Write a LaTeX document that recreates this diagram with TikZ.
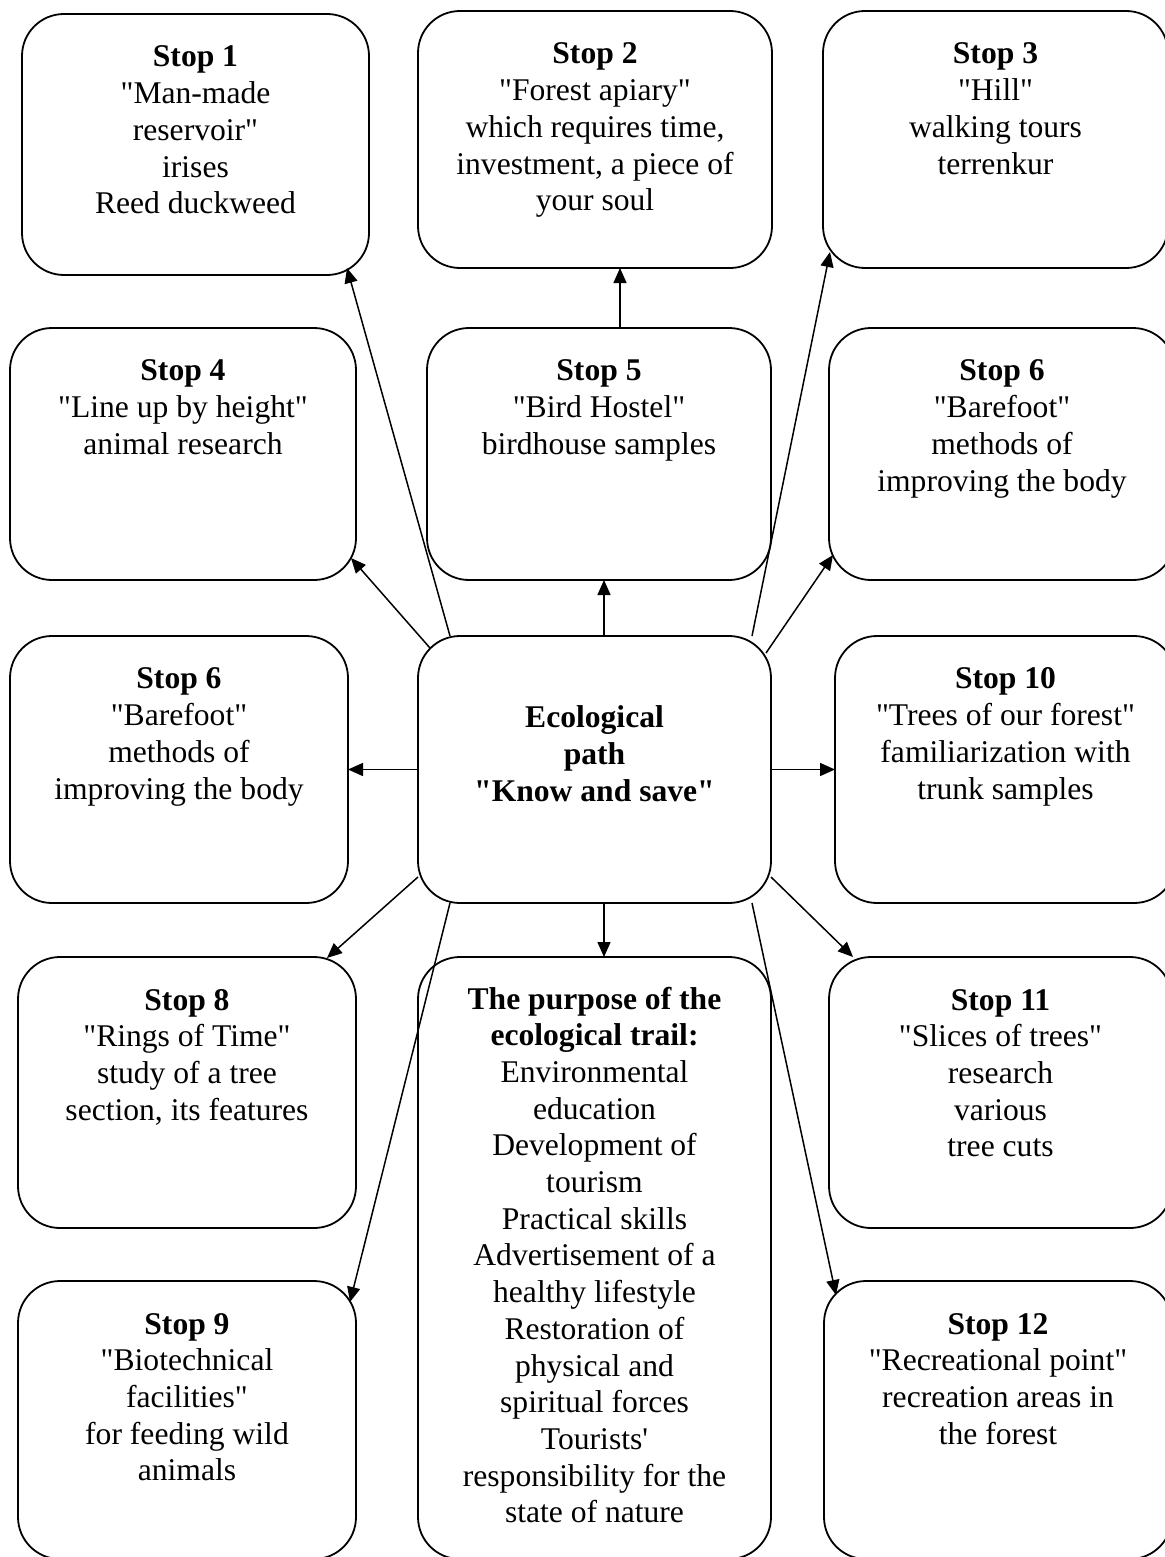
\documentclass[tikz,border=0pt]{standalone}
\usepackage{fontspec}
\setmainfont{Liberation Serif}[Ligatures=TeXOff]
\usetikzlibrary{arrows.meta}

% box body: width, height, gap above first line, lines
\newcommand\stopbody[4]{\parbox[c][#2pt][t]{#1pt}{\centering\vspace*{#3pt}\strut#4}}

\tikzset{
  stopbox/.style={draw, line width=1.8pt, rounded corners=42pt, inner sep=0pt, outer sep=0pt,
    font=\fontsize{31.6}{36.7}\selectfont},
  link/.style={line width=1.5pt, -{Triangle[length=15pt,width=13pt]}},
}

\begin{document}
\begin{tikzpicture}[x=1pt, y=-1pt]
\path[use as bounding box, fill=white] (0,0) rectangle (1164,1557);

% top row
\node[stopbox] (s1) at (195.5,144.5) {\stopbody{347}{261}{27.3}{\textbf{Stop 1}\\"Man-made\\reservoir"\\irises\\Reed duckweed}};
\node[stopbox] (s2) at (595,139.5) {\stopbody{354}{257}{27.3}{\textbf{Stop 2}\\"Forest apiary"\\which requires time,\\investment, a piece of\\your soul}};
\node[stopbox] (s3) at (995.5,139.5) {\stopbody{345}{257}{27.3}{\textbf{Stop 3}\\"Hill"\\walking tours\\terrenkur}};

% second row
\node[stopbox] (s4) at (183,454) {\stopbody{346}{252}{27.3}{\textbf{Stop 4}\\"Line up by height"\\animal research}};
\node[stopbox] (s5) at (599,454) {\stopbody{344}{252}{27.3}{\textbf{Stop 5}\\"Bird Hostel"\\birdhouse samples}};
\node[stopbox] (s6r) at (1002,454) {\stopbody{346}{252}{27.3}{\textbf{Stop 6}\\"Barefoot"\\methods of\\improving the body}};

% middle row
\node[stopbox] (s6l) at (179,769.5) {\stopbody{338}{267}{27.3}{\textbf{Stop 6}\\"Barefoot"\\methods of\\improving the body}};
\node[stopbox] (c) at (594.5,769.5) {\stopbody{353}{267}{66.3}{\bfseries Ecological\\path\\"Know and save"}};
\node[stopbox] (s10) at (1005.5,769.5) {\stopbody{341}{267}{27.3}{\textbf{Stop 10}\\"Trees of our forest"\\familiarization with\\trunk samples}};

% lower rows
\node[stopbox] (s8) at (187,1092.5) {\stopbody{338}{271}{27.3}{\textbf{Stop 8}\\"Rings of Time"\\study of a tree\\section, its features}};
\node[stopbox] (p) at (594.5,1258) {\stopbody{353}{602}{26.3}{\textbf{The purpose of the}\\\textbf{ecological trail:}\\Environmental\\education\\Development of\\tourism\\Practical skills\\Advertisement of a\\healthy lifestyle\\Restoration of\\physical and\\spiritual forces\\Tourists'\\responsibility for the\\state of nature}};
\node[stopbox] (s11) at (1000.5,1092.5) {\stopbody{343}{271}{27.3}{\textbf{Stop 11}\\"Slices of trees"\\research\\various\\tree cuts}};
\node[stopbox] (s9) at (187,1420) {\stopbody{338}{278}{27.3}{\textbf{Stop 9}\\"Biotechnical\\facilities"\\for feeding wild\\animals}};
\node[stopbox] (s12) at (998,1420) {\stopbody{348}{278}{27.3}{\textbf{Stop 12}\\"Recreational point"\\recreation areas in\\the forest}};

% connectors
\draw[link] ([shift={(21,0)}]s5.north) -- ([shift={(25,0)}]s2.south);
\draw[link] ([shift={(9.5,0)}]c.north) -- ([shift={(5,0)}]s5.south);
\draw[link] ([shift={(32,0)}]c.north west) -- ([shift={(-22,-7)}]s1.south east);
\draw[link] ([shift={(-19,0)}]c.north east) -- ([shift={(7,-16)}]s3.south west);
\draw[link] ([shift={(12,12)}]c.north west) -- ([shift={(-5,-22)}]s4.south east);
\draw[link] ([shift={(-5,17)}]c.north east) -- ([shift={(4,-25)}]s6r.south west);
\draw[link] (c.west) -- (s6l.east);
\draw[link] (c.east) -- (s10.west);
\draw[link] ([shift={(0,-26)}]c.south west) -- ([shift={(-29,1)}]s8.north east);
\draw[link] ([shift={(0,-26)}]c.south east) -- ([shift={(24,0)}]s11.north west);
\draw[link] ([shift={(9.5,0)}]c.south) -- ([shift={(9.5,0)}]p.north);
\draw[link] ([shift={(32,0)}]c.south west) -- ([shift={(-6,21)}]s9.north east);
\draw[link] ([shift={(-19,0)}]c.south east) -- ([shift={(12,14)}]s12.north west);
\end{tikzpicture}
\end{document}
